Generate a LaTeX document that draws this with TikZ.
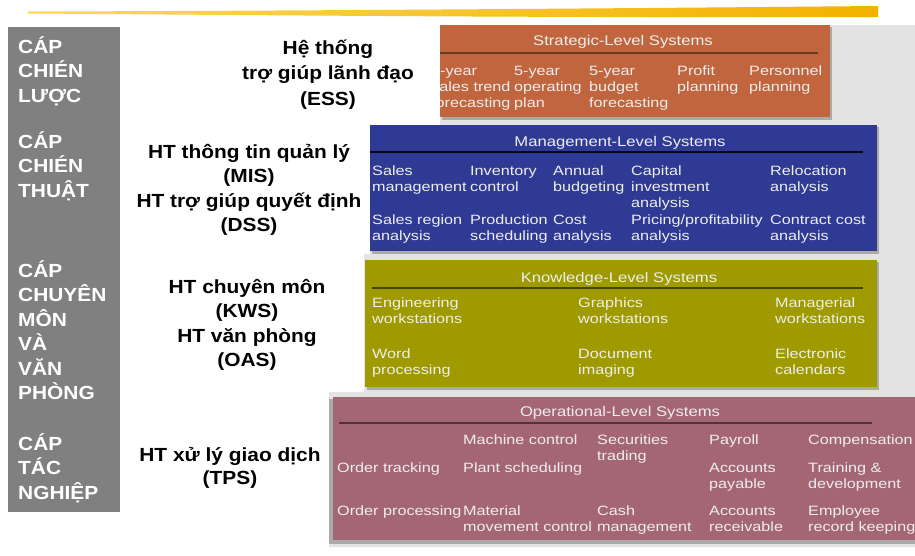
\documentclass[tikz,border=0pt]{standalone}
\usepackage{fontspec}
\setmainfont{Liberation Sans}
\newfontfamily\labfont[FakeStretch=1.1]{Liberation Sans}
\newfontfamily\hdfont[FakeStretch=1.19]{Liberation Sans}
\newfontfamily\itemfont[FakeStretch=1.2]{Liberation Sans}
\definecolor{stratc}{RGB}{193,101,63}
\definecolor{mgmtc}{RGB}{46,58,148}
\definecolor{knowc}{RGB}{158,154,0}
\definecolor{operc}{RGB}{165,102,116}
\definecolor{panelc}{RGB}{227,227,227}
\definecolor{colc}{RGB}{128,128,128}
\definecolor{inkc}{RGB}{238,238,238}
\definecolor{shadowc}{RGB}{170,170,170}
\definecolor{strokeL}{RGB}{250,216,90}
\definecolor{strokeR}{RGB}{243,178,0}

\begin{document}
% multi-line nodes are placed by the baseline of their last line
\begin{tikzpicture}[x=1pt,y=-1pt,
  level/.style={anchor=base west, inner sep=0pt, align=left, text=white,
    font=\labfont\bfseries\fontsize{19}{24.5}\selectfont},
  tier/.style={anchor=base, inner sep=0pt, align=center, text=black,
    font=\labfont\bfseries\fontsize{19}{24.5}\selectfont},
  head/.style={anchor=base, inner sep=0pt, text=inkc,
    font=\hdfont\fontsize{14}{16}\selectfont},
  item/.style={anchor=base west, inner sep=0pt, align=left, text=inkc,
    font=\itemfont\fontsize{13.5}{16}\selectfont},
  rule/.style={line width=1.8pt},
  bandshadow/.style={fill=shadowc},
]
\useasboundingbox (0,0) rectangle (915,555);

% brush stroke along the top
\shade[left color=strokeL, right color=strokeR]
  (28,11.5) .. controls (250,11) and (550,9) .. (878,6)
  -- (878,17) .. controls (550,18) and (250,15) .. (28,13.5) -- cycle;

% grey column with the level names
\fill[colc] (8,27) rectangle (120,512);
\node[level] (lvlA) at (18,102)   {CÁP\\CHIÉN\\LƯỢC};
\node[level] (lvlB) at (18,197)   {CÁP\\CHIÉN\\THUẬT};
\node[level] (lvlC) at (18,399.5) {CÁP\\CHUYÊN\\MÔN\\VÀ\\VĂN\\PHÒNG};
\node[level] (lvlD) at (18,499)   {CÁP\\TÁC\\NGHIỆP};

% system names
\node[tier, font=\labfont\bfseries\fontsize{19}{25.5}\selectfont] (ess) at (328,105)
  {Hệ thống\\trợ giúp lãnh đạo\\(ESS)};
\node[tier] (mis) at (249,231.5)
  {HT thông tin quản lý\\(MIS)\\HT trợ giúp quyết định\\(DSS)};
\node[tier] (kws) at (247,366.5) {HT chuyên môn\\(KWS)\\HT văn phòng\\(OAS)};
\node[tier, font=\labfont\bfseries\fontsize{19}{23.5}\selectfont] (tps) at (230,484.5)
  {HT xử lý giao dịch\\(TPS)};

% light backdrop behind the bands
\fill[panelc] (440,25) -- (915,25) -- (915,547) -- (329,547) -- (329,392)
  -- (364,392) -- (364,254) -- (370,254) -- (370,125) -- (440,125) -- cycle;

% shadows
\fill[bandshadow] (442,27) rectangle (832,119.5);
\fill[bandshadow] (372,127) rectangle (879,253.5);
\fill[bandshadow] (367,262) rectangle (879,389.5);
\fill[bandshadow] (329,399) rectangle (915,543.5);

% strategic level
\fill[stratc] (440,25) rectangle (830,117);
\draw[rule, stratc!55!black] (440,53) -- (818,53);
\node[head] (headS) at (623,45) {Strategic-Level Systems};
\begin{scope}
  \clip (440,25) rectangle (830,117);
  \node[item] (s1) at (431,107) {5-year\\sales trend\\forecasting};
  \node[item] (s2) at (514,107) {5-year\\operating\\plan};
  \node[item] (s3) at (589,107) {5-year\\budget\\forecasting};
  \node[item] (s4) at (677,91)  {Profit\\planning};
  \node[item] (s5) at (749,91)  {Personnel\\planning};
\end{scope}

% management level
\fill[mgmtc] (370,125) rectangle (877,251);
\draw[rule, black!85!mgmtc] (370,152) -- (863,152);
\node[head] (headM) at (620,146) {Management-Level Systems};
\node[item] (m1)  at (372,191) {Sales\\management};
\node[item] (m2)  at (470,191) {Inventory\\control};
\node[item] (m3)  at (553,191) {Annual\\budgeting};
\node[item] (m4)  at (631,207) {Capital\\investment\\analysis};
\node[item] (m5)  at (770,191) {Relocation\\analysis};
\node[item] (m6)  at (372,240) {Sales region\\analysis};
\node[item] (m7)  at (470,240) {Production\\scheduling};
\node[item] (m8)  at (553,240) {Cost\\analysis};
\node[item] (m9)  at (631,240) {Pricing/profitability\\analysis};
\node[item] (m10) at (770,240) {Contract cost\\analysis};

% knowledge level
\fill[knowc] (365,260) rectangle (877,387);
\draw[rule, knowc!45!black] (372,288) -- (863,288);
\node[head] (headK) at (619,282) {Knowledge-Level Systems};
\node[item] (k1) at (372,323) {Engineering\\workstations};
\node[item] (k2) at (578,323) {Graphics\\workstations};
\node[item] (k3) at (775,323) {Managerial\\workstations};
\node[item] (k4) at (372,374) {Word\\processing};
\node[item] (k5) at (578,374) {Document\\imaging};
\node[item] (k6) at (775,374) {Electronic\\calendars};

% operational level
\fill[operc] (333,397) rectangle (915,540);
\draw[rule, operc!50!black] (339,423) -- (872,423);
\node[head] (headO) at (620,416) {Operational-Level Systems};
\node[item] (o1)  at (337,472.5) {Order tracking};
\node[item] (o2)  at (337,515.5) {Order processing};
\node[item] (o3)  at (463,444.5) {Machine control};
\node[item] (o4)  at (463,472.5) {Plant scheduling};
\node[item] (o5)  at (463,531.5) {Material\\movement control};
\node[item] (o6)  at (597,460.5) {Securities\\trading};
\node[item] (o7)  at (597,531.5) {Cash\\management};
\node[item] (o8)  at (709,444.5) {Payroll};
\node[item] (o9)  at (709,488.5) {Accounts\\payable};
\node[item] (o10) at (709,531.5) {Accounts\\receivable};
\node[item] (o11) at (808,444.5) {Compensation};
\node[item] (o12) at (808,488.5) {Training \&\\development};
\node[item] (o13) at (808,531.5) {Employee\\record keeping};
\end{tikzpicture}
\end{document}
